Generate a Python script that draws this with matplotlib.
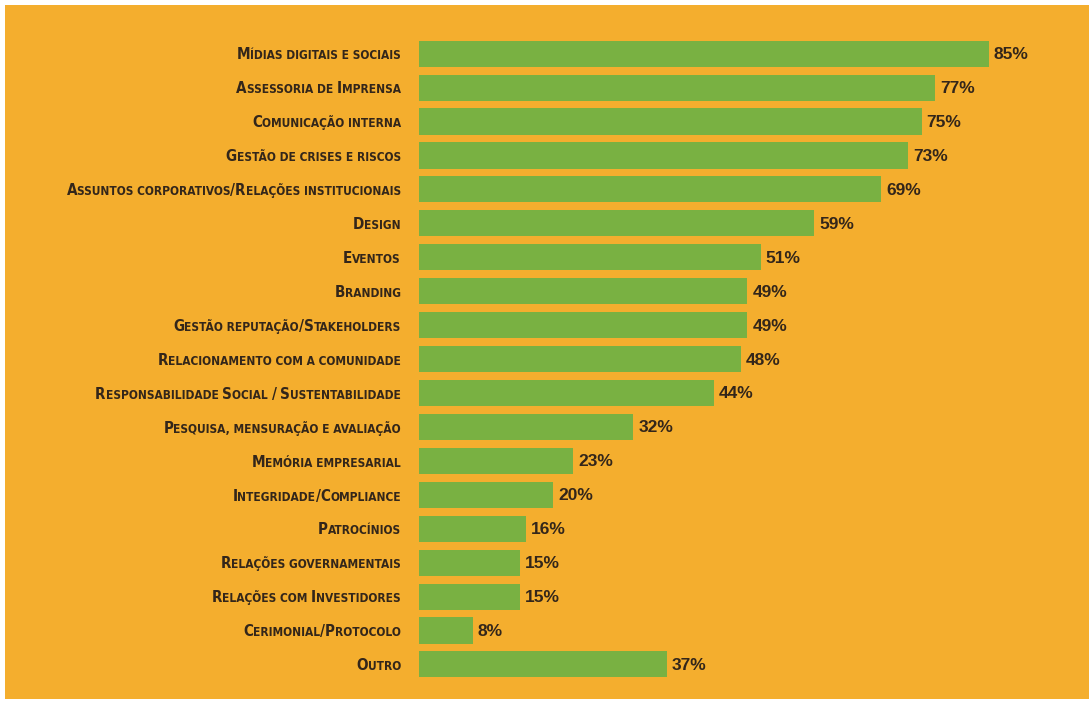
import matplotlib.pyplot as plt
import matplotlib.transforms as mtransforms
from matplotlib.patches import Rectangle

# Dados
categorias = [
    "Mídias digitais e sociais",
    "Assessoria de Imprensa",
    "Comunicação interna",
    "Gestão de crises e riscos",
    "Assuntos corporativos/Relações institucionais",
    "Design",
    "Eventos",
    "Branding",
    "Gestão reputação/Stakeholders",
    "Relacionamento com a comunidade",
    "Responsabilidade Social / Sustentabilidade",
    "Pesquisa, mensuração e avaliação",
    "Memória empresarial",
    "Integridade/Compliance",
    "Patrocínios",
    "Relações governamentais",
    "Relações com Investidores",
    "Cerimonial/Protocolo",
    "Outro",
]
valores = [85, 77, 75, 73, 69, 59, 51, 49, 49, 48, 44, 32, 23, 20, 16, 15, 15, 8, 37]
rotulos = [f"{v}%" for v in valores]

laranja = "#F4AE2E"
verde = "#79B142"
texto = "#33261A"

W, H = 1089, 704
fig = plt.figure(figsize=(W / 100, H / 100), dpi=100, facecolor="white")
fig.patches.append(Rectangle((5 / W, 5 / H), 1 - 5 / W, 1 - 10 / H,
                             transform=fig.transFigure, facecolor=laranja,
                             edgecolor="none", zorder=-10))

ax_left, ax_w = 419, 670
ax_bottom, ax_h = 22.6, 644.7
ax = fig.add_axes([ax_left / W, ax_bottom / H, ax_w / W, ax_h / H])
ax.set_facecolor("none")
ax.axis("off")

pos = list(range(len(categorias)))
ax.barh(pos, valores, height=0.77, color=verde)
ax.set_xlim(0, 100)
ax.set_ylim(len(categorias) - 0.5, -0.5)

for p, v, r in zip(pos, valores, rotulos):
    ax.text(v + 0.75, p + 0.03, r, va="center", ha="left", fontsize=12.5,
            weight="bold", color=texto, family=["Liberation Sans", "DejaVu Sans"])

# rótulos em versalete
renderer = fig.canvas.get_renderer()
trans = mtransforms.blended_transform_factory(ax.transAxes, ax.transData)
fonte = dict(family=["Liberation Sans Narrow", "DejaVu Sans"],
             fontstretch="condensed", weight="bold", color=texto)


def versalete(y, s, direita_px=401, grande=10.9, pequena=8.6):
    runs = []
    for c in s:
        big = c.isupper() or c in "/"
        if runs and runs[-1][1] == big:
            runs[-1][0] += c.upper()
        else:
            runs.append([c.upper(), big])
    x = direita_px
    for txt, big in reversed(runs):
        t = ax.text((x - ax_left) / ax_w, y, txt, ha="right", va="baseline",
                    transform=trans, fontsize=grande if big else pequena,
                    clip_on=False, **fonte)
        x -= t.get_window_extent(renderer).width


for p, c in zip(pos, categorias):
    versalete(p + 0.17, c)

fig.savefig("out.png", dpi=100, facecolor="white")
